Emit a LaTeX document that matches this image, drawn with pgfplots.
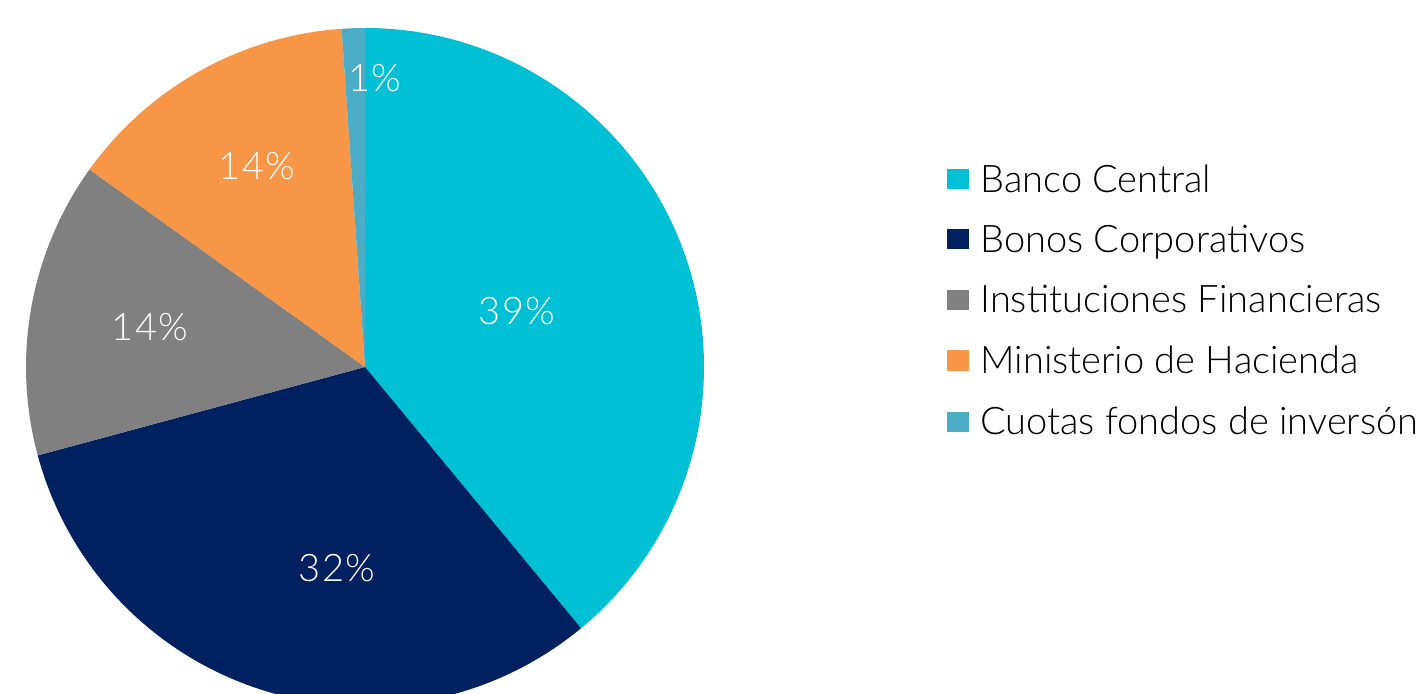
\documentclass[border=0pt]{standalone}
\usepackage{pgfplots}
\pgfplotsset{compat=1.18}
\usepackage{fontspec}
\setmainfont{Lato}
\newfontfamily\lightfont{Lato Light}
\definecolor{cBanco}{RGB}{0,192,214}
\definecolor{cBonos}{RGB}{0,32,96}
\definecolor{cInst}{RGB}{128,128,128}
\definecolor{cMin}{RGB}{247,150,70}
\definecolor{cCuot}{RGB}{75,172,198}
% shares of the pie (percent)
\def\vA{39.0}\def\vB{31.8}\def\vC{14.1}\def\vD{14.0}\def\vE{1.1}
\pgfmathsetmacro{\aA}{90}
\pgfmathsetmacro{\aB}{\aA-3.6*\vA}
\pgfmathsetmacro{\aC}{\aB-3.6*\vB}
\pgfmathsetmacro{\aD}{\aC-3.6*\vC}
\pgfmathsetmacro{\aE}{\aD-3.6*\vD}
\pgfmathsetmacro{\aF}{\aE-3.6*\vE}
\def\R{169.5pt}
\newcommand{\slice}[3]{\fill[#1] (axis cs:365,326) -- ++(#2:\R) arc[start angle=#2, end angle=#3, radius=\R] -- cycle;}
\begin{document}
\begin{tikzpicture}
\begin{axis}[width=708.5pt,height=346.5pt,scale only axis,
  xmin=0,xmax=1417,ymin=0,ymax=693,axis lines=none,clip=true]
\slice{cBanco}{\aA}{\aB}
\slice{cBonos}{\aB}{\aC}
\slice{cInst}{\aC}{\aD}
\slice{cMin}{\aD}{\aE}
\slice{cCuot}{\aE}{\aF}
\begin{scope}[every node/.style={text=white,font=\lightfont\fontsize{19}{20}\selectfont\addfontfeatures{LetterSpace=4}}]
\node at (axis cs:517,382) {39\%};
\node at (axis cs:337,125) {32\%};
\node at (axis cs:150,366) {14\%};
\node at (axis cs:257,527) {14\%};
\node at (axis cs:375,615) {1\%};
\end{scope}
\begin{scope}[every node/.style={anchor=base west,inner sep=0pt,font=\lightfont\fontsize{19}{20}\selectfont}]
\fill[cBanco] (axis cs:947,504) rectangle (axis cs:969,524);
\node at (axis cs:980,501) {Banco Central};
\fill[cBonos] (axis cs:947,444) rectangle (axis cs:969,464);
\node at (axis cs:980,441) {Bonos Corporativos};
\fill[cInst] (axis cs:947,383) rectangle (axis cs:969,403);
\node at (axis cs:980,381) {Instituciones Financieras};
\fill[cMin] (axis cs:947,322) rectangle (axis cs:969,343);
\node at (axis cs:980,320) {Ministerio de Hacienda};
\fill[cCuot] (axis cs:947,261) rectangle (axis cs:969,281);
\node at (axis cs:980,259) {Cuotas fondos de invers\'on};
\end{scope}
\end{axis}
\pgfresetboundingbox
\useasboundingbox (current axis.south west) rectangle (current axis.north east);
\end{tikzpicture}
\end{document}
